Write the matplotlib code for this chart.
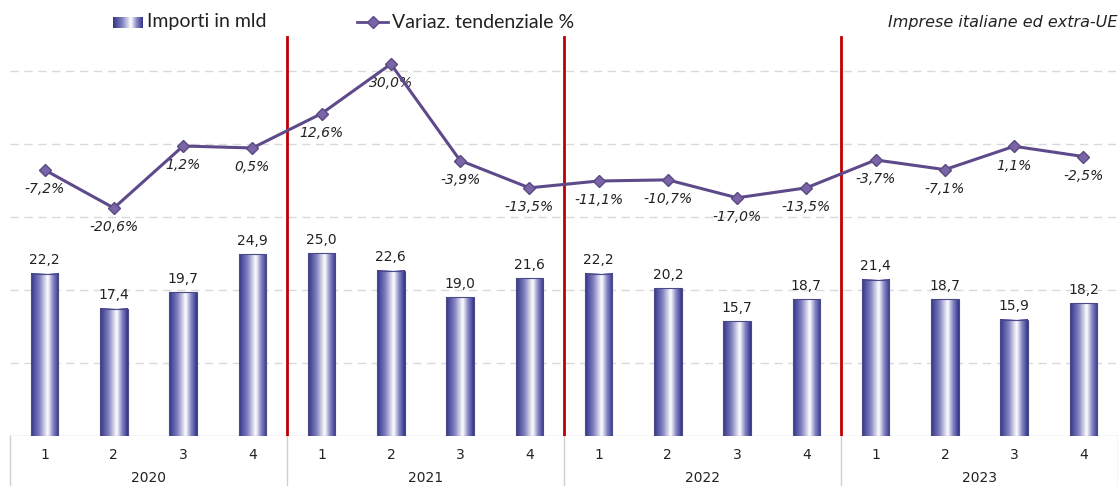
import numpy as np
import matplotlib.pyplot as plt
from matplotlib.colors import LinearSegmentedColormap
from matplotlib.lines import Line2D

quarters = ["1", "2", "3", "4"] * 4
years = ["2020", "2021", "2022", "2023"]
imports_bn = [22.2, 17.4, 19.7, 24.9, 25.0, 22.6, 19.0, 21.6,
              22.2, 20.2, 15.7, 18.7, 21.4, 18.7, 15.9, 18.2]
yoy_pct = [-7.2, -20.6, 1.2, 0.5, 12.6, 30.0, -3.9, -13.5,
           -11.1, -10.7, -17.0, -13.5, -3.7, -7.1, 1.1, -2.5]

W, H = 1118, 486
fig = plt.figure(figsize=(W / 100, H / 100), dpi=100)
ax = fig.add_axes([10 / W, 50 / H, (W - 10) / W, 436 / H])
ax2 = ax.twinx()

bar_cmap = LinearSegmentedColormap.from_list(
    "barfill", [(0, "#35358a"), (0.3, "#8080c0"), (0.6, "#ffffff"),
                (0.8, "#8585c4"), (1, "#35358a")])
grad = np.linspace(0, 1, 64).reshape(1, -1)

x = np.arange(len(imports_bn))
bw = 0.4
for xi, v in zip(x, imports_bn):
    ax.imshow(grad, cmap=bar_cmap, extent=[xi - bw / 2, xi + bw / 2, 0, v],
              aspect="auto", zorder=2, interpolation="bilinear")
    ax.add_patch(plt.Rectangle((xi - bw / 2, 0), bw, v, fill=False,
                               edgecolor="#4a4a8a", lw=0.8, zorder=3))
    ax.text(xi, v + 0.9, f"{v:.1f}".replace(".", ","), ha="center", va="bottom",
            fontsize=10, color="#222222", zorder=4)

ax.set_xlim(-0.5, len(x) - 0.5)
ax.set_ylim(0, 59.7)
for g in [10, 20, 30, 40, 50]:
    ax.axhline(g, color="#d9d9d9", lw=1, ls=(0, (6, 4)), zorder=0)

line_col = "#5e4a8a"
ax2.plot(x, yoy_pct, color=line_col, lw=2.2, marker="D", markersize=6,
         markerfacecolor="#7a64a8", markeredgecolor="#5a4a80", zorder=5)
for xi, v in zip(x, yoy_pct):
    ax2.annotate(f"{v:.1f}%".replace(".", ","), (xi, v), xytext=(0, -14),
                 textcoords="offset points", ha="center", va="center",
                 fontsize=10, style="italic", color="#222222")
ax2.set_ylim(-100.7, 52.5)

for a in (ax, ax2):
    a.set_yticks([])
    for s in a.spines.values():
        s.set_visible(False)
ax.set_xticks([])

# red separators between years
for b in [3.5, 7.5, 11.5]:
    ax.axvline(b, ymin=0, ymax=0.915, color="#c00000", lw=2, zorder=6)

# category axis table
ax.axhline(0, color="#d0d0d0", lw=1, zorder=1)
for b in [-0.5, 3.5, 7.5, 11.5, 15.5]:
    ax.plot([b, b], [0, -50 / 436 * 59.7], color="#d0d0d0", lw=1,
            clip_on=False)
for xi, q in zip(x, quarters):
    ax.text(xi, -19 / 436 * 59.7, q, ha="center", va="center", fontsize=10,
            color="#222222")
for i, yr in enumerate(years):
    ax.text(4 * i + 1.5, -42 / 436 * 59.7, yr, ha="center", va="center",
            fontsize=10, color="#222222", clip_on=False)

# legend drawn by hand
ly = 1 - 22 / H
lax = fig.add_axes([113 / W, (H - 28) / H, 30 / W, 11 / H])
lax.imshow(grad, cmap=bar_cmap, aspect="auto")
lax.axis("off")
fig.text(147 / W, ly, "Importi in mld", fontsize=14, family="Lato",
         va="center", color="#222222")
fig.add_artist(Line2D([357 / W, 388 / W], [ly, ly], color=line_col, lw=2,
                      transform=fig.transFigure))
fig.add_artist(Line2D([372.5 / W], [ly], color=line_col, marker="D",
                      markersize=6, markerfacecolor="#7a64a8",
                      transform=fig.transFigure))
fig.text(392 / W, ly, "Variaz. tendenziale %", fontsize=14,
         family="Lato", va="center", color="#222222")
fig.text(1117 / W, ly, "Imprese italiane ed extra-UE", fontsize=11.5,
         style="italic", ha="right", va="center", color="#222222")

fig.savefig("out.png", dpi=100)
